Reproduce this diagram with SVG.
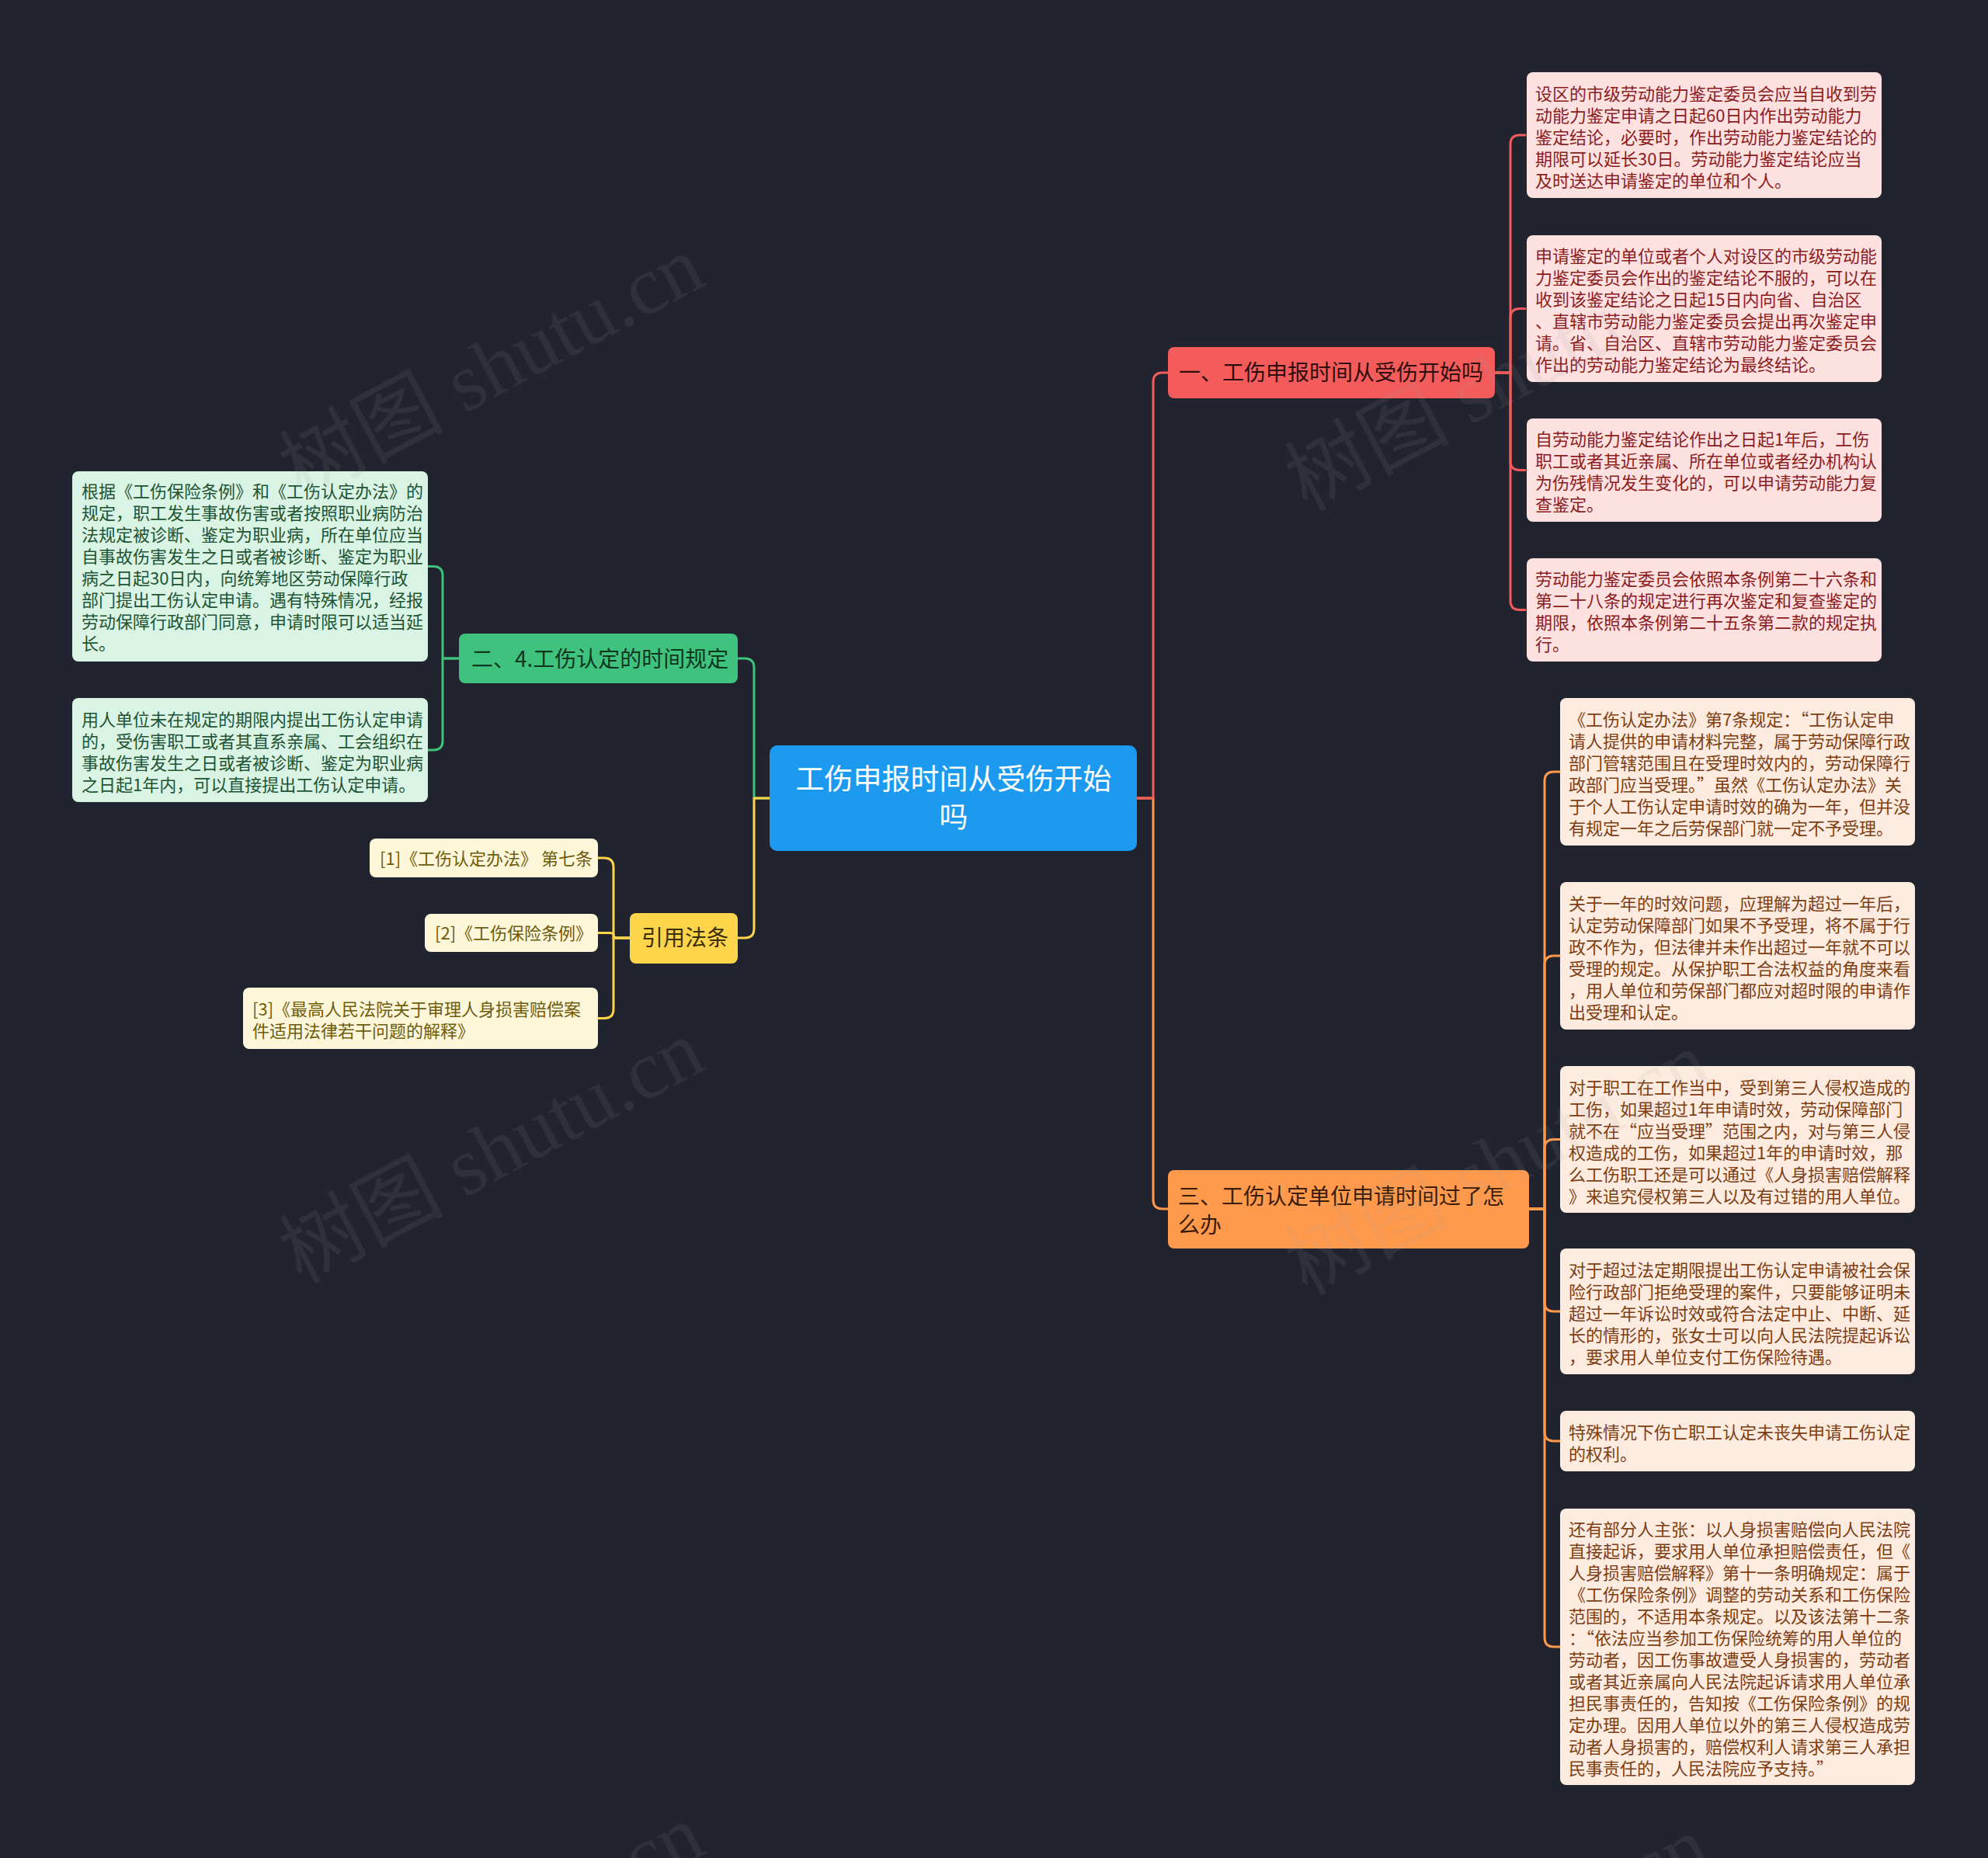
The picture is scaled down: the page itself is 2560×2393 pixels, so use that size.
<svg xmlns="http://www.w3.org/2000/svg" width="2560" height="2393" viewBox="0 0 2560 2393">
<style>
text{font-family:"Noto Sans CJK SC","Noto Sans",sans-serif;}
.c{fill:none;stroke-width:3;stroke-linecap:round;stroke-linejoin:round;}
.red{stroke:#f45b5b}.org{stroke:#ff9a4d}.grn{stroke:#3ec27d}.yel{stroke:#fdd54a}
.lf{font-size:22px;}
.pk{fill:#fde1e1}.pkt{fill:#8c1c1c}
.pc{fill:#fdebe0}.pct{fill:#7c3e12}
.gn{fill:#d9f3e5}.gnt{fill:#1e5432}
.cr{fill:#fdf6d9}.crt{fill:#6e5c0c}
.br{font-size:28px;}
.wm{font-family:"Liberation Serif","Noto Sans CJK SC",serif;font-size:106px;fill:#9a9a9a;fill-opacity:0.11;}
</style>
<rect width="2560" height="2393" fill="#21242f"/>
<g id="connectors">
<path class="c org" d="M1464 1028 H1485 V1545 Q1485 1557 1497 1557 H1504"/>
<path class="c red" d="M1464 1028 H1485 V492 Q1485 480 1497 480 H1504"/>
<path class="c grn" d="M991 1028 H971 V860 Q971 848 959 848 H950"/>
<path class="c yel" d="M991 1028 H971 V1196 Q971 1208 959 1208 H950"/>
<path class="c red" d="M1925 480 H1945 V186 Q1945 174 1957 174 H1964"/>
<path class="c red" d="M1925 480 H1945 V409.5 Q1945 397.5 1957 397.5 H1964"/>
<path class="c red" d="M1925 480 H1945 V593.5 Q1945 605.5 1957 605.5 H1964"/>
<path class="c red" d="M1925 480 H1945 V773.5 Q1945 785.5 1957 785.5 H1964"/>
<path class="c org" d="M1969 1557 H1989 V1006 Q1989 994 2001 994 H2009"/>
<path class="c org" d="M1969 1557 H1989 V1243 Q1989 1231 2001 1231 H2009"/>
<path class="c org" d="M1969 1557 H1989 V1479.5 Q1989 1467.5 2001 1467.5 H2009"/>
<path class="c org" d="M1969 1557 H1989 V1677 Q1989 1689 2001 1689 H2009"/>
<path class="c org" d="M1969 1557 H1989 V1844 Q1989 1856 2001 1856 H2009"/>
<path class="c org" d="M1969 1557 H1989 V2109 Q1989 2121 2001 2121 H2009"/>
<path class="c grn" d="M591 848 H570 V741.5 Q570 729.5 558 729.5 H551"/>
<path class="c grn" d="M591 848 H570 V954 Q570 966 558 966 H551"/>
<path class="c yel" d="M811 1208 H790 V1117 Q790 1105 778 1105 H770"/>
<path class="c yel" d="M811 1208 H796 Q790 1208 790 1204 Q790 1201.5 784 1201.5 H770"/>
<path class="c yel" d="M811 1208 H790 V1299.5 Q790 1311.5 778 1311.5 H770"/>
</g>
<g id="root">
<rect x="991" y="960" width="473" height="136" rx="10" fill="#1b9af0"/>
<text x="1228" y="1017" font-size="37" fill="#ffffff" text-anchor="middle">工伤申报时间从受伤开始</text>
<text x="1228" y="1066" font-size="37" fill="#ffffff" text-anchor="middle">吗</text>
</g>
<g id="b1">
<rect x="1504" y="447" width="421" height="66" rx="8" fill="#f45b5b"/>
<text class="br" x="1518" y="490" fill="#2e0d0d">一、工伤申报时间从受伤开始吗</text>
</g>
<g id="b3">
<rect x="1504" y="1507" width="465" height="101" rx="8" fill="#ff9a4d"/>
<text class="br" fill="#3a1c08"><tspan x="1517" y="1551">三、工伤认定单位申请时间过了怎</tspan><tspan x="1517" y="1588">么办</tspan></text>
</g>
<g id="b2">
<rect x="591" y="816" width="359" height="64" rx="8" fill="#3ec27d"/>
<text class="br" x="607" y="859" fill="#10361f">二、4.工伤认定的时间规定</text>
</g>
<g id="b4">
<rect x="811" y="1176" width="139" height="65" rx="8" fill="#fdd54a"/>
<text class="br" x="826" y="1218" fill="#3a2e00">引用法条</text>
</g>
<g id="l1a">
<rect class="pk" x="1966" y="93" width="457" height="162" rx="8"/>
<text class="lf pkt"><tspan x="1977" y="129">设区的市级劳动能力鉴定委员会应当自收到劳</tspan><tspan x="1977" y="157">动能力鉴定申请之日起60日内作出劳动能力</tspan><tspan x="1977" y="185">鉴定结论，必要时，作出劳动能力鉴定结论的</tspan><tspan x="1977" y="213">期限可以延长30日。劳动能力鉴定结论应当</tspan><tspan x="1977" y="241">及时送达申请鉴定的单位和个人。</tspan></text>
</g>
<g id="l1b">
<rect class="pk" x="1966" y="303" width="457" height="189" rx="8"/>
<text class="lf pkt"><tspan x="1977" y="338">申请鉴定的单位或者个人对设区的市级劳动能</tspan><tspan x="1977" y="366">力鉴定委员会作出的鉴定结论不服的，可以在</tspan><tspan x="1977" y="394">收到该鉴定结论之日起15日内向省、自治区</tspan><tspan x="1977" y="422">、直辖市劳动能力鉴定委员会提出再次鉴定申</tspan><tspan x="1977" y="450">请。省、自治区、直辖市劳动能力鉴定委员会</tspan><tspan x="1977" y="478">作出的劳动能力鉴定结论为最终结论。</tspan></text>
</g>
<g id="l1c">
<rect class="pk" x="1966" y="539" width="457" height="133" rx="8"/>
<text class="lf pkt"><tspan x="1977" y="574">自劳动能力鉴定结论作出之日起1年后，工伤</tspan><tspan x="1977" y="602">职工或者其近亲属、所在单位或者经办机构认</tspan><tspan x="1977" y="630">为伤残情况发生变化的，可以申请劳动能力复</tspan><tspan x="1977" y="658">查鉴定。</tspan></text>
</g>
<g id="l1d">
<rect class="pk" x="1966" y="719" width="457" height="133" rx="8"/>
<text class="lf pkt"><tspan x="1977" y="754">劳动能力鉴定委员会依照本条例第二十六条和</tspan><tspan x="1977" y="782">第二十八条的规定进行再次鉴定和复查鉴定的</tspan><tspan x="1977" y="810">期限，依照本条例第二十五条第二款的规定执</tspan><tspan x="1977" y="838">行。</tspan></text>
</g>
<g id="l3a">
<rect class="pc" x="2009" y="899" width="457" height="190" rx="8"/>
<text class="lf pct"><tspan x="2020" y="935">《工伤认定办法》第7条规定：“工伤认定申</tspan><tspan x="2020" y="963">请人提供的申请材料完整，属于劳动保障行政</tspan><tspan x="2020" y="991">部门管辖范围且在受理时效内的，劳动保障行</tspan><tspan x="2020" y="1019">政部门应当受理。”虽然《工伤认定办法》关</tspan><tspan x="2020" y="1047">于个人工伤认定申请时效的确为一年，但并没</tspan><tspan x="2020" y="1075">有规定一年之后劳保部门就一定不予受理。</tspan></text>
</g>
<g id="l3b">
<rect class="pc" x="2009" y="1136" width="457" height="190" rx="8"/>
<text class="lf pct"><tspan x="2020" y="1172">关于一年的时效问题，应理解为超过一年后，</tspan><tspan x="2020" y="1200">认定劳动保障部门如果不予受理，将不属于行</tspan><tspan x="2020" y="1228">政不作为，但法律并未作出超过一年就不可以</tspan><tspan x="2020" y="1256">受理的规定。从保护职工合法权益的角度来看</tspan><tspan x="2020" y="1284">，用人单位和劳保部门都应对超时限的申请作</tspan><tspan x="2020" y="1312">出受理和认定。</tspan></text>
</g>
<g id="l3c">
<rect class="pc" x="2009" y="1373" width="457" height="189" rx="8"/>
<text class="lf pct"><tspan x="2020" y="1409">对于职工在工作当中，受到第三人侵权造成的</tspan><tspan x="2020" y="1437">工伤，如果超过1年申请时效，劳动保障部门</tspan><tspan x="2020" y="1465">就不在“应当受理”范围之内，对与第三人侵</tspan><tspan x="2020" y="1493">权造成的工伤，如果超过1年的申请时效，那</tspan><tspan x="2020" y="1521">么工伤职工还是可以通过《人身损害赔偿解释</tspan><tspan x="2020" y="1549">》来追究侵权第三人以及有过错的用人单位。</tspan></text>
</g>
<g id="l3d">
<rect class="pc" x="2009" y="1608" width="457" height="162" rx="8"/>
<text class="lf pct"><tspan x="2020" y="1644">对于超过法定期限提出工伤认定申请被社会保</tspan><tspan x="2020" y="1672">险行政部门拒绝受理的案件，只要能够证明未</tspan><tspan x="2020" y="1700">超过一年诉讼时效或符合法定中止、中断、延</tspan><tspan x="2020" y="1728">长的情形的，张女士可以向人民法院提起诉讼</tspan><tspan x="2020" y="1756">，要求用人单位支付工伤保险待遇。</tspan></text>
</g>
<g id="l3e">
<rect class="pc" x="2009" y="1817" width="457" height="78" rx="8"/>
<text class="lf pct"><tspan x="2020" y="1853">特殊情况下伤亡职工认定未丧失申请工伤认定</tspan><tspan x="2020" y="1881">的权利。</tspan></text>
</g>
<g id="l3f">
<rect class="pc" x="2009" y="1943" width="457" height="356" rx="8"/>
<text class="lf pct"><tspan x="2020" y="1978">还有部分人主张：以人身损害赔偿向人民法院</tspan><tspan x="2020" y="2006">直接起诉，要求用人单位承担赔偿责任，但《</tspan><tspan x="2020" y="2034">人身损害赔偿解释》第十一条明确规定：属于</tspan><tspan x="2020" y="2062">《工伤保险条例》调整的劳动关系和工伤保险</tspan><tspan x="2020" y="2090">范围的，不适用本条规定。以及该法第十二条</tspan><tspan x="2020" y="2118">：“依法应当参加工伤保险统筹的用人单位的</tspan><tspan x="2020" y="2146">劳动者，因工伤事故遭受人身损害的，劳动者</tspan><tspan x="2020" y="2174">或者其近亲属向人民法院起诉请求用人单位承</tspan><tspan x="2020" y="2202">担民事责任的，告知按《工伤保险条例》的规</tspan><tspan x="2020" y="2230">定办理。因用人单位以外的第三人侵权造成劳</tspan><tspan x="2020" y="2258">动者人身损害的，赔偿权利人请求第三人承担</tspan><tspan x="2020" y="2286">民事责任的，人民法院应予支持。”</tspan></text>
</g>
<g id="l2a">
<rect class="gn" x="93" y="607" width="458" height="245" rx="8"/>
<text class="lf gnt"><tspan x="105" y="641">根据《工伤保险条例》和《工伤认定办法》的</tspan><tspan x="105" y="669">规定，职工发生事故伤害或者按照职业病防治</tspan><tspan x="105" y="697">法规定被诊断、鉴定为职业病，所在单位应当</tspan><tspan x="105" y="725">自事故伤害发生之日或者被诊断、鉴定为职业</tspan><tspan x="105" y="753">病之日起30日内，向统筹地区劳动保障行政</tspan><tspan x="105" y="781">部门提出工伤认定申请。遇有特殊情况，经报</tspan><tspan x="105" y="809">劳动保障行政部门同意，申请时限可以适当延</tspan><tspan x="105" y="837">长。</tspan></text>
</g>
<g id="l2b">
<rect class="gn" x="93" y="899" width="458" height="134" rx="8"/>
<text class="lf gnt"><tspan x="105" y="935">用人单位未在规定的期限内提出工伤认定申请</tspan><tspan x="105" y="963">的，受伤害职工或者其直系亲属、工会组织在</tspan><tspan x="105" y="991">事故伤害发生之日或者被诊断、鉴定为职业病</tspan><tspan x="105" y="1019">之日起1年内，可以直接提出工伤认定申请。</tspan></text>
</g>
<g id="y1">
<rect class="cr" x="476" y="1080" width="294" height="50" rx="8"/>
<text class="lf crt" x="489" y="1114">[1]《工伤认定办法》 第七条</text>
</g>
<g id="y2">
<rect class="cr" x="547" y="1177" width="223" height="49" rx="8"/>
<text class="lf crt" x="560" y="1210">[2]《工伤保险条例》</text>
</g>
<g id="y3">
<rect class="cr" x="313" y="1272" width="457" height="79" rx="8"/>
<text class="lf crt"><tspan x="325" y="1308">[3]《最高人民法院关于审理人身损害赔偿案</tspan><tspan x="325" y="1336">件适用法律若干问题的解释》</tspan></text>
</g>
<g id="watermarks">
<text class="wm" text-anchor="middle" transform="translate(650 505) rotate(-28)">树图 shutu.cn</text>
<text class="wm" text-anchor="middle" transform="translate(650 1515) rotate(-28)">树图 shutu.cn</text>
<text class="wm" text-anchor="middle" transform="translate(650 2525) rotate(-28)">树图 shutu.cn</text>
<text class="wm" text-anchor="middle" transform="translate(1945 520) rotate(-28)">树图 shutu.cn</text>
<text class="wm" text-anchor="middle" transform="translate(1945 1530) rotate(-28)">树图 shutu.cn</text>
<text class="wm" text-anchor="middle" transform="translate(1945 2540) rotate(-28)">树图 shutu.cn</text>
</g>
</svg>
